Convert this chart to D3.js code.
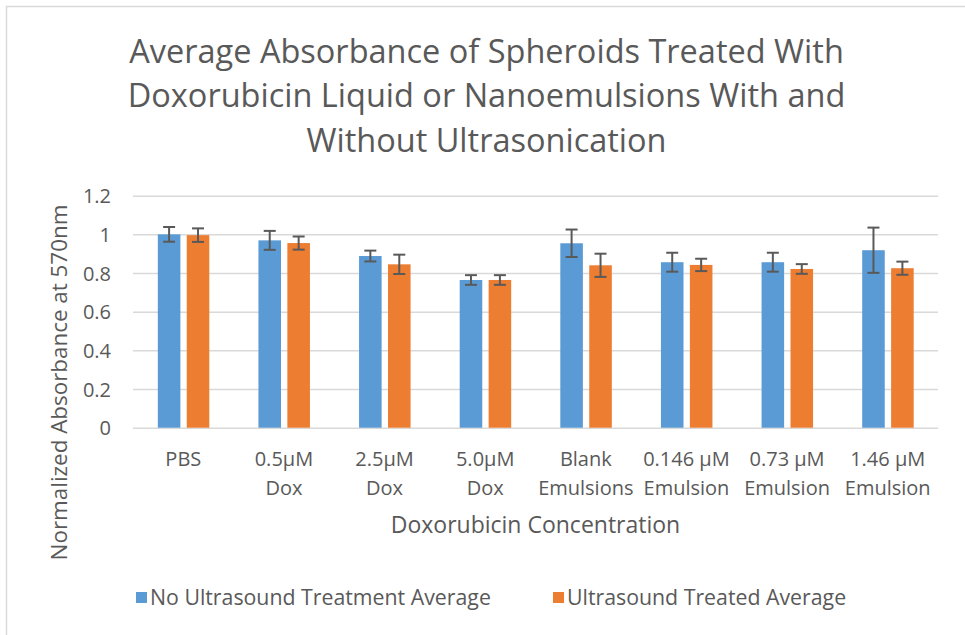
<!DOCTYPE html>
<html><head><meta charset="utf-8">
<script src="https://cdn.jsdelivr.net/npm/d3@7"></script>
<style>
html,body{margin:0;padding:0;background:#fff;}
text{font-family:"Open Sans",sans-serif;fill:#595959;}
</style></head>
<body>
<svg id="chart" width="965" height="635"></svg>
<script>
const categories = [["PBS"],["0.5\u00b5M","Dox"],["2.5\u00b5M","Dox"],["5.0\u00b5M","Dox"],["Blank","Emulsions"],["0.146 \u00b5M","Emulsion"],["0.73 \u00b5M","Emulsion"],["1.46 \u00b5M","Emulsion"]];
const seriesNames = ["No Ultrasound Treatment Average","Ultrasound Treated Average"];
const noUltrasound = [1.0, 0.969, 0.888, 0.764, 0.954, 0.856, 0.856, 0.918];
const noUltrasoundErr = [0.038, 0.049, 0.028, 0.025, 0.071, 0.049, 0.049, 0.117];
const ultrasound = [0.996, 0.955, 0.845, 0.764, 0.840, 0.842, 0.821, 0.825];
const ultrasoundErr = [0.035, 0.034, 0.050, 0.025, 0.060, 0.032, 0.025, 0.034];
const yTicks = [0, 0.2, 0.4, 0.6, 0.8, 1, 1.2];
const titleLines = ["Average Absorbance of Spheroids Treated With","Doxorubicin Liquid or Nanoemulsions With and","Without Ultrasonication"];
const xTitle = "Doxorubicin Concentration";
const yTitle = "Normalized Absorbance at 570nm";
const colors = ["#5B9BD5","#ED7D31"];

(function(){
const svg = d3.select("#chart");
svg.append("rect").attr("x",6.5).attr("y",6.5).attr("width",1000).attr("height",1000)
  .attr("fill","none").attr("stroke","#d9d9d9").attr("stroke-width",1.5);

const pLeft = 133, pRight = 938, pTop = 195.7, pBottom = 427.7;
const catKeys = categories.map((c,i)=>i);
const x = d3.scaleBand().domain(catKeys).range([pLeft,pRight]).paddingInner(0).paddingOuter(0);
const x1 = d3.scaleBand().domain([0,1]).range([0,51.5]).paddingInner(0.22).paddingOuter(0);
const y = d3.scaleLinear().domain([0,1.2]).range([pBottom,pTop]);

const yAxis = d3.axisLeft(y).tickValues(yTicks).tickSize(-(pRight-pLeft)).tickFormat(d=>d3.format("")(d));
const gy = svg.append("g").attr("transform",`translate(${pLeft},0)`).call(yAxis);
gy.select(".domain").remove();
gy.selectAll(".tick line").attr("stroke","#d9d9d9").attr("stroke-width",1.5);
gy.selectAll(".tick text").attr("x",-22).attr("dy","0.36em").attr("font-size",20).attr("fill","#595959")
  .style("font-family","'Open Sans',sans-serif");

const data = catKeys.map(i=>[
  {s:0,v:noUltrasound[i],e:noUltrasoundErr[i],c:i},
  {s:1,v:ultrasound[i],e:ultrasoundErr[i],c:i}
]);
const groups = svg.append("g").selectAll("g").data(data).join("g")
  .attr("transform",d=>`translate(${x(d[0].c)+x.bandwidth()/2-25.5},0)`);
groups.selectAll("rect").data(d=>d).join("rect")
  .attr("x",d=>x1(d.s)).attr("width",x1.bandwidth())
  .attr("y",d=>y(d.v)).attr("height",d=>y(0)-y(d.v))
  .attr("fill",d=>colors[d.s]);
const eb = groups.selectAll("g.err").data(d=>d).join("g").attr("class","err")
  .attr("stroke","#595959").attr("stroke-width",2);
eb.append("line").attr("x1",d=>x1(d.s)+x1.bandwidth()/2).attr("x2",d=>x1(d.s)+x1.bandwidth()/2)
  .attr("y1",d=>y(d.v+d.e)).attr("y2",d=>y(d.v-d.e));
eb.append("line").attr("x1",d=>x1(d.s)+x1.bandwidth()/2-6).attr("x2",d=>x1(d.s)+x1.bandwidth()/2+6)
  .attr("y1",d=>y(d.v+d.e)).attr("y2",d=>y(d.v+d.e));
eb.append("line").attr("x1",d=>x1(d.s)+x1.bandwidth()/2-6).attr("x2",d=>x1(d.s)+x1.bandwidth()/2+6)
  .attr("y1",d=>y(d.v-d.e)).attr("y2",d=>y(d.v-d.e));

const xl = svg.append("g").selectAll("text").data(catKeys).join("text")
  .attr("text-anchor","middle").attr("font-size",20)
  .attr("x",i=>x(i)+x.bandwidth()/2).attr("y",466);
xl.selectAll("tspan").data(i=>categories[i].map((t,j)=>({t,j,i}))).join("tspan")
  .attr("x",d=>x(d.i)+x.bandwidth()/2).attr("dy",d=>d.j===0?0:29).text(d=>d.t);

svg.append("g").selectAll("text").data(titleLines).join("text")
  .attr("text-anchor","middle").attr("x",486.5).attr("y",(d,i)=>62.7+i*44.5)
  .attr("font-size",32.5).text(d=>d);

svg.append("text").attr("text-anchor","middle").attr("x",535.5).attr("y",533)
  .attr("font-size",23).text(xTitle);
svg.append("text").attr("text-anchor","middle").attr("transform","translate(67,382.5) rotate(-90)")
  .attr("font-size",22.4).text(yTitle);

const legX = [136, 553];
const lg = svg.append("g").selectAll("g").data(seriesNames).join("g")
  .attr("transform",(d,i)=>`translate(${legX[i]},0)`);
lg.append("rect").attr("x",0).attr("y",592).attr("width",11).attr("height",11).attr("fill",(d,i)=>colors[i]);
lg.append("text").attr("x",14).attr("y",605).attr("font-size",21.3).text(d=>d);
})();
</script>
</body></html>
